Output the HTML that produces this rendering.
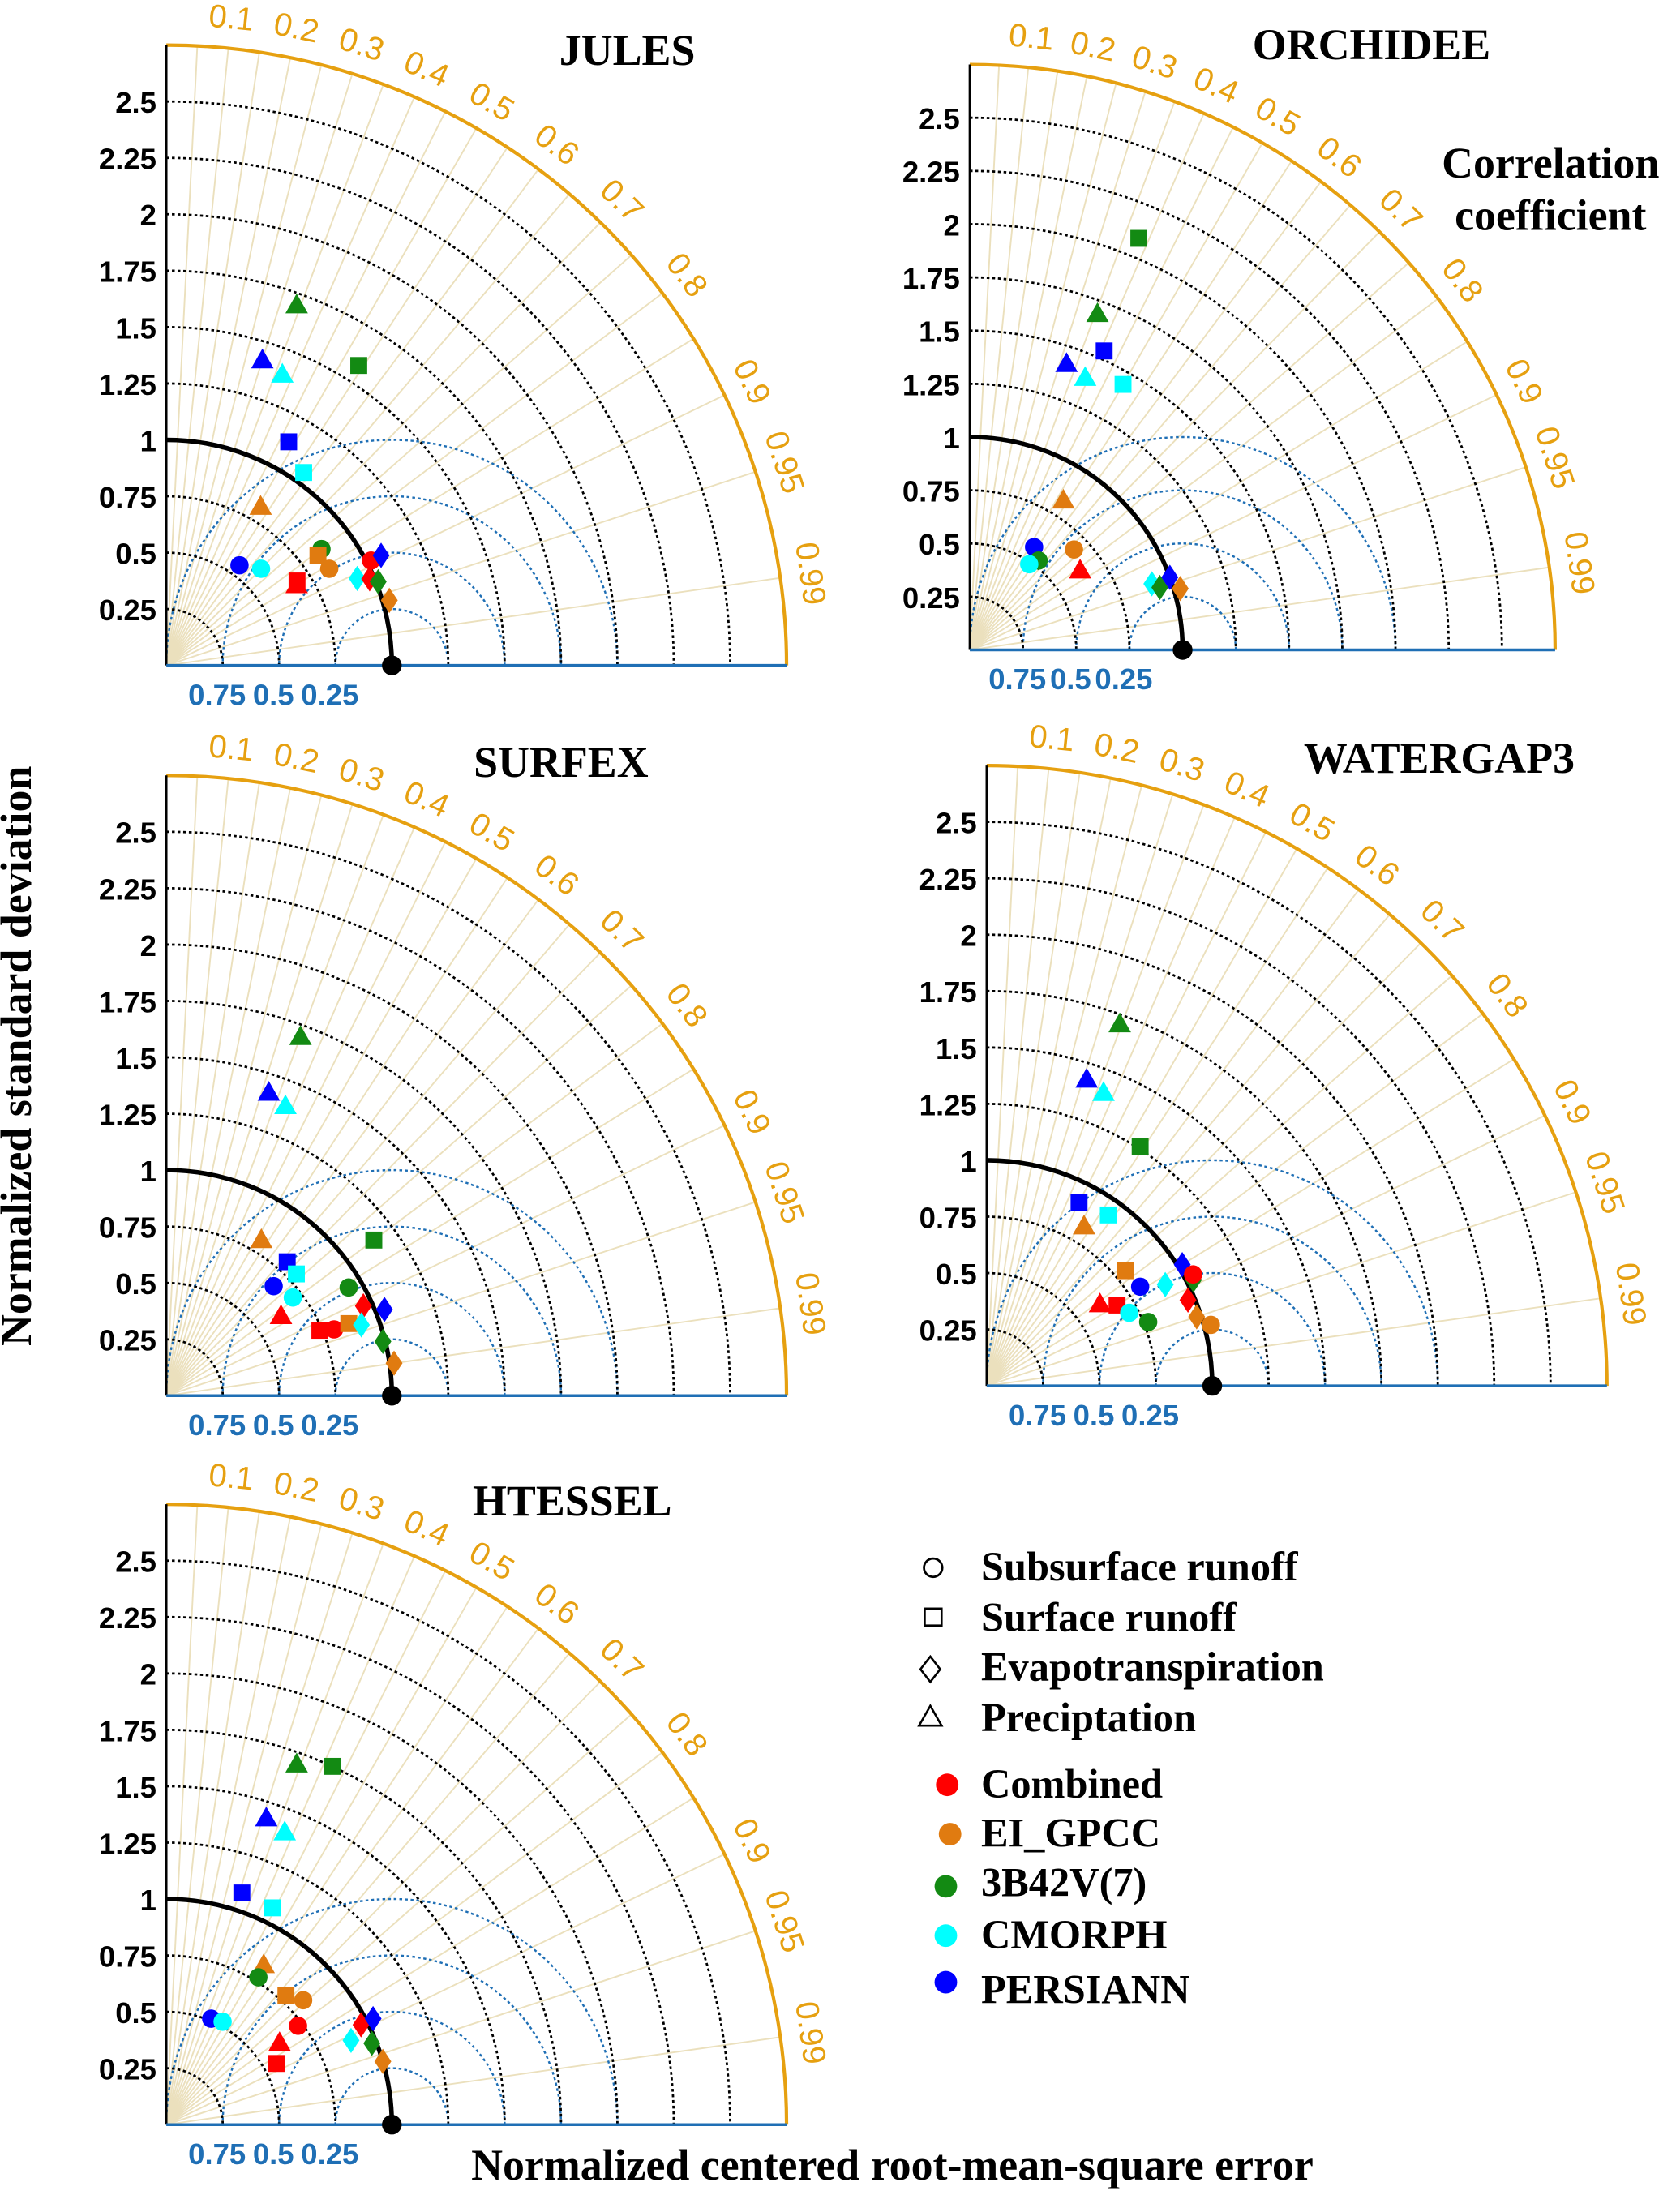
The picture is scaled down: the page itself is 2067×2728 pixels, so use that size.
<!DOCTYPE html>
<html><head><meta charset="utf-8">
<style>
html,body{margin:0;padding:0;background:#fff;}
svg{display:block;}
.tk{font-family:"Liberation Sans",sans-serif;font-weight:bold;font-size:21px;fill:#000;}
.cc{font-family:"Liberation Sans",sans-serif;font-size:23px;fill:#e6a010;}
.rm{font-family:"Liberation Sans",sans-serif;font-weight:bold;font-size:21px;fill:#1f6fb5;}
.ti{font-family:"Liberation Serif",serif;font-weight:bold;font-size:31px;fill:#000;}
.lg{font-family:"Liberation Serif",serif;font-weight:bold;font-size:29px;fill:#000;}
</style></head>
<body>
<svg id="chart" width="2067" height="2728" viewBox="0 0 1189 1569" preserveAspectRatio="none" xmlns="http://www.w3.org/2000/svg">
<text class="ti" x="22" y="749" text-anchor="middle" font-size="30" transform="rotate(-90 22 749)">Normalized  standard deviation</text>
<text class="ti" x="633" y="1546" text-anchor="middle" font-size="28">Normalized centered root-mean-square error</text>
<text class="ti" x="1100" y="126" text-anchor="middle" font-size="30">Correlation</text>
<text class="ti" x="1100" y="163" text-anchor="middle" font-size="30">coefficient</text>
<g>
<circle cx="662" cy="1112" r="6.5" fill="none" stroke="#000" stroke-width="1.6"/>
<text class="lg" x="696" y="1121">Subsurface runoff</text>
<rect x="656" y="1141" width="12" height="12" fill="none" stroke="#000" stroke-width="1.5"/>
<text class="lg" x="696" y="1157">Surface  runoff</text>
<path d="M660 1175 L667 1184 L660 1193 L653 1184 Z" fill="none" stroke="#000" stroke-width="1.5"/>
<text class="lg" x="696" y="1192">Evapotranspiration</text>
<path d="M660 1210 L668 1224 L652 1224 Z" fill="none" stroke="#000" stroke-width="1.5"/>
<text class="lg" x="696" y="1228">Preciptation</text>
<circle cx="672" cy="1266" r="8" fill="#ff0000"/>
<text class="lg" x="696" y="1275">Combined</text>
<circle cx="674" cy="1301" r="8" fill="#e07b10"/>
<text class="lg" x="696" y="1310">EI_GPCC</text>
<circle cx="671" cy="1338" r="8" fill="#138a13"/>
<text class="lg" x="696" y="1345">3B42V(7)</text>
<circle cx="671" cy="1373" r="8" fill="#00ffff"/>
<text class="lg" x="696" y="1382">CMORPH</text>
<circle cx="671" cy="1406" r="8" fill="#0000ff"/>
<text class="lg" x="696" y="1421">PERSIANN</text>
</g>
</svg>
<script>
const NS="http://www.w3.org/2000/svg";
const svg=document.getElementById('chart');
const stdTicks=[0.25,0.5,0.75,1,1.25,1.5,1.75,2,2.25,2.5];
const stdTickLabels=["0.25","0.5","0.75","1","1.25","1.5","1.75","2","2.25","2.5"];
const corrTicks=[0.1,0.2,0.3,0.4,0.5,0.6,0.7,0.8,0.9,0.95,0.99];
const corrTickLabels=["0.1","0.2","0.3","0.4","0.5","0.6","0.7","0.8","0.9","0.95","0.99"];
const corrMinor=[0.05,0.15,0.25,0.35,0.45,0.55,0.65,0.75,0.85];
const rmsTicks=[0.25,0.5,0.75,1];
const rmsTickLabels=["0.75","0.5","0.25"];
const seriesColors={C:"#ff0000",E:"#e07b10",G:"#138a13",M:"#00ffff",P:"#0000ff"};
const julesShape=["t","t","t","s","s","s","t","o","s","o","o","o","t","s","d","d","o","d","d","d"];
const julesSeries=["G","P","M","G","P","M","E","G","E","P","M","E","C","C","M","C","C","P","G","E"];
const julesStd=[1.70,1.42,1.39,1.58,1.13,1.05,0.82,0.86,0.83,0.55,0.60,0.84,0.68,0.69,0.93,0.98,1.02,1.07,1.01,1.03];
const julesCorr=[0.34,0.30,0.37,0.54,0.48,0.58,0.51,0.80,0.81,0.59,0.70,0.86,0.85,0.84,0.91,0.92,0.89,0.89,0.93,0.96];
const orchShape=["s","t","s","t","t","s","t","o","t","o","o","o","d","d","d","d"];
const orchSeries=["G","G","P","P","M","M","E","E","C","P","G","M","M","G","P","E"];
const orchStd=[2.09,1.69,1.54,1.42,1.39,1.44,0.83,0.68,0.64,0.57,0.53,0.49,0.91,0.94,1.00,1.03];
const orchCorr=[0.38,0.355,0.41,0.32,0.39,0.50,0.53,0.72,0.81,0.53,0.61,0.57,0.94,0.95,0.94,0.96];
const surfShape=["t","t","t","t","s","s","s","o","o","t","o","s","o","s","d","d","d","d","d"];
const surfSeries=["G","P","M","E","G","P","M","P","M","C","G","C","C","E","C","M","P","G","E"];
const surfStd=[1.70,1.42,1.39,0.81,1.15,0.80,0.79,0.68,0.71,0.62,0.94,0.74,0.80,0.87,0.96,0.92,1.04,0.99,1.02];
const surfCorr=[0.35,0.32,0.38,0.52,0.80,0.67,0.73,0.70,0.79,0.82,0.86,0.92,0.93,0.93,0.91,0.94,0.93,0.97,0.99];
const wgShape=["t","t","t","s","s","s","t","s","t","s","o","o","o","d","d","d","o","d","d","o"];
const wgSeries=["G","P","M","G","P","M","E","E","C","C","P","M","G","M","P","G","C","C","E","E"];
const wgStd=[1.71,1.43,1.40,1.26,0.91,0.93,0.83,0.80,0.62,0.68,0.81,0.71,0.77,0.91,1.02,1.03,1.04,0.97,0.98,1.03];
const wgCorr=[0.345,0.31,0.37,0.54,0.45,0.58,0.52,0.77,0.81,0.85,0.84,0.89,0.93,0.87,0.85,0.89,0.88,0.92,0.95,0.965];
const htShape=["t","s","t","t","s","s","t","o","s","o","o","o","o","t","s","d","d","d","d","d"];
const htSeries=["G","G","P","M","P","M","E","G","E","E","P","M","C","C","C","M","C","P","G","E"];
const htStd=[1.70,1.75,1.43,1.40,1.08,1.07,0.83,0.77,0.78,0.82,0.51,0.52,0.73,0.62,0.56,0.90,0.97,1.03,0.98,1.00];
const htCorr=[0.34,0.42,0.31,0.375,0.31,0.44,0.52,0.53,0.68,0.74,0.39,0.48,0.80,0.81,0.875,0.91,0.89,0.89,0.93,0.96];

function mk(tag,attrs,parent){const e=document.createElementNS(NS,tag);for(const k in attrs)e.setAttribute(k,attrs[k]);(parent||svg).appendChild(e);return e;}

function drawPanel(name,title,ox,oy,u,tx,ty,shapes,series,stds,corrs){
  const g=mk('g',{});
  
  
  const R=2.75;
  const X=(x)=>ox+x*u, Y=(y)=>oy-y*u;
  corrMinor.concat(corrTicks).forEach(c=>{
    const a=Math.acos(c);
    const l=mk('line',{x1:ox,y1:oy,x2:X(R*Math.cos(a)),y2:Y(R*Math.sin(a)),stroke:"#ebe0bd","stroke-width":1.1},g);
    
    
  });
  rmsTicks.forEach(r=>{
    let d="";let pen=false;
    for(let i=0;i<=360;i++){
      const t=Math.PI*i/360;
      const x=1+r*Math.cos(t), y=r*Math.sin(t);
      if(x>=0 && x*x+y*y<=R*R){d+=(pen?"L":"M")+X(x).toFixed(2)+" "+Y(y).toFixed(2)+" ";pen=true;} else pen=false;
    }
    const p=mk('path',{d:d,fill:"none",stroke:"#1f6fb5","stroke-width":1.4,"stroke-dasharray":"2 2"},g);
    
    
  });
  stdTicks.forEach((s,i)=>{
    const big=s===1;
    const p=mk('path',{d:`M${ox} ${Y(s)} A${s*u} ${s*u} 0 0 1 ${X(s)} ${oy}`,fill:"none",stroke:"#000","stroke-width":big?3.2:1.6,"stroke-dasharray":big?"none":"2 2"},g);
    
    
    const t=mk('text',{x:ox-7,y:Y(s)+8,"text-anchor":"end",class:"tk"},g);
    t.textContent=stdTickLabels[i];
    
    
  });
  const arc=mk('path',{d:`M${ox} ${Y(R)} A${R*u} ${R*u} 0 0 1 ${X(R)} ${oy}`,fill:"none",stroke:"#e6a010","stroke-width":2.4},g);
  
  
  const ya=mk('line',{x1:ox,y1:oy,x2:ox,y2:Y(R),stroke:"#000","stroke-width":1.6},g);
  
  
  const xa=mk('line',{x1:ox,y1:oy,x2:X(R),y2:oy,stroke:"#1f6fb5","stroke-width":2},g);
  
  
  corrTicks.forEach((c,i)=>{
    const a=Math.acos(c);
    const rr=R*u+14;
    const x=ox+rr*Math.cos(a), y=oy-rr*Math.sin(a);
    const rot=90-a*180/Math.PI;
    const t=mk('text',{x:x,y:y,class:"cc","text-anchor":"middle",transform:`rotate(${rot} ${x} ${y})`},g);
    t.textContent=corrTickLabels[i];
    
    
  });
  rmsTickLabels.forEach((lab,i)=>{
    const t=mk('text',{x:X(0.25*(i+1))-4,y:oy+28,class:"rm","text-anchor":"middle"},g);
    t.textContent=lab;
    
    
  });
  const ti=mk('text',{x:tx,y:ty,class:"ti","text-anchor":"middle"},g);
  ti.textContent=title;
  
  
  for(let i=0;i<stds.length;i++){
    const x=X(stds[i]*corrs[i]), y=Y(stds[i]*Math.sqrt(1-corrs[i]*corrs[i]));
    const col=seriesColors[series[i]];const s=shapes[i];let m;
    if(s==="o") m=mk('circle',{cx:x,cy:y,r:6.5,fill:col},g);
    else if(s==="s") m=mk('rect',{x:x-6,y:y-6,width:12,height:12,fill:col},g);
    else if(s==="d") m=mk('path',{d:`M${x} ${y-9} L${x+6} ${y} L${x} ${y+9} L${x-6} ${y} Z`,fill:col},g);
    else m=mk('path',{d:`M${x} ${y-8} L${x+8} ${y+6} L${x-8} ${y+6} Z`,fill:col},g);
    
    
  }
  const ref=mk('circle',{cx:X(1),cy:oy,r:7,fill:"#000"},g);
  
  
}
drawPanel('jules','JULES',118,472,160,445,46,julesShape,julesSeries,julesStd,julesCorr);
drawPanel('orchidee','ORCHIDEE',688,461,151,973,42,orchShape,orchSeries,orchStd,orchCorr);
drawPanel('surfex','SURFEX',118,990,160,398,551,surfShape,surfSeries,surfStd,surfCorr);
drawPanel('watergap3','WATERGAP3',700,983,160,1021,548,wgShape,wgSeries,wgStd,wgCorr);
drawPanel('htessel','HTESSEL',118,1507,160,406,1075,htShape,htSeries,htStd,htCorr);
</script>
</body></html>
